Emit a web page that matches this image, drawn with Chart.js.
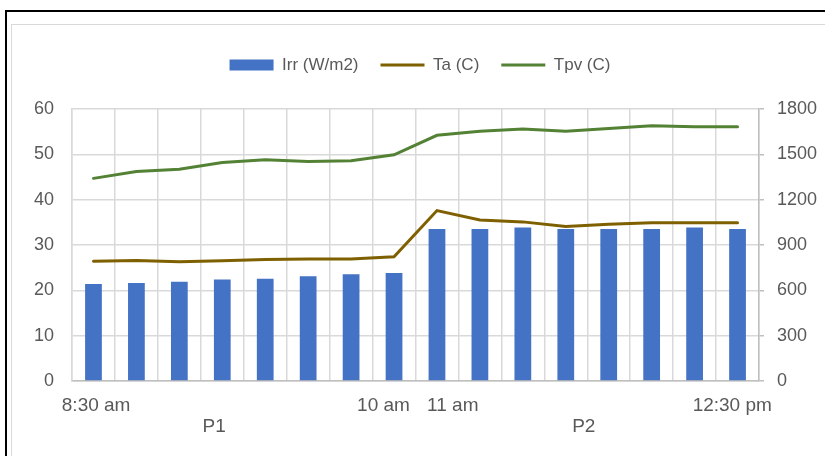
<!DOCTYPE html>
<html>
<head>
<meta charset="utf-8">
<script src="https://cdn.jsdelivr.net/npm/chart.js@4/dist/chart.umd.min.js"></script>
<style>
  html, body { margin: 0; padding: 0; background: #ffffff; overflow: hidden; }
  #wrap { position: relative; width: 825px; height: 456px; }
  #outer { position: absolute; left: 5px; top: 10px; width: 840px; height: 470px; border: 2px solid #000; box-sizing: border-box; }
  #inner { position: absolute; left: 11px; top: 24px; width: 840px; height: 470px; border: 1.5px solid #d9d9d9; box-sizing: border-box; }
  canvas { position: absolute; left: 0; top: 0; }
</style>
</head>
<body>
<div id="wrap">
  <div id="outer"></div>
  <div id="inner"></div>
  <canvas id="c" width="825" height="456"></canvas>
</div>
<script>
// ---- data ----
const categories = ['8:30 am', '', '', '', '', '', '', '10 am', '11 am', '', '', '', '', '', '', '12:30 pm'];
const groupLabels = ['P1', 'P2'];
const irr = [642, 648, 657, 671, 677, 693, 706, 715, 1006, 1006, 1015, 1006, 1006, 1006, 1015, 1006];
const ta  = [26.4, 26.6, 26.3, 26.5, 26.8, 26.9, 26.9, 27.4, 37.6, 35.5, 35.1, 34.1, 34.6, 34.9, 34.9, 34.9];
const tpv = [44.7, 46.2, 46.7, 48.2, 48.8, 48.4, 48.6, 49.9, 54.2, 55.1, 55.6, 55.1, 55.7, 56.3, 56.1, 56.1];
const leftTicks = [0, 10, 20, 30, 40, 50, 60];
const rightTicks = [0, 300, 600, 900, 1200, 1500, 1800];

const FONT = "'Liberation Sans', Arial, sans-serif";
const TXT = '#595959';
const GRID = '#d9d9d9';
const PAD_LEFT = 15;

const groupPlugin = {
  id: 'groupLabels',
  afterDraw(chart) {
    const xs = chart.scales.x;
    const ctx = chart.ctx;
    const at = [2.81, 11.42];
    ctx.save();
    ctx.font = '19px ' + FONT;
    ctx.fillStyle = TXT;
    ctx.textAlign = 'center';
    ctx.textBaseline = 'middle';
    groupLabels.forEach((g, i) => {
      ctx.fillText(g, xs.getPixelForValue(at[i]), 427);
    });
    ctx.restore();
  }
};

// small horizontal nudges of the sparse tick labels (spaces), as in the reference
const labelPad = { 0: [1, 0], 7: [0, 4], 8: [6, 0], 15: [0, 2] };

new Chart(document.getElementById('c'), {
  data: {
    labels: categories,
    datasets: [
      {
        type: 'bar', label: 'Irr (W/m2)', data: irr, yAxisID: 'y2', xAxisID: 'x',
        backgroundColor: '#4472C4', borderWidth: 0,
        barPercentage: 0.39, categoryPercentage: 1, order: 2,
        pointStyle: 'rect'
      },
      {
        type: 'line', label: 'Ta (C)', data: ta, yAxisID: 'y', xAxisID: 'x',
        borderColor: '#7F6000', backgroundColor: '#7F6000', borderWidth: 3,
        pointRadius: 0, pointHoverRadius: 0, tension: 0, order: 1,
        pointStyle: 'line', borderCapStyle: 'round'
      },
      {
        type: 'line', label: 'Tpv (C)', data: tpv, yAxisID: 'y', xAxisID: 'x',
        borderColor: '#548235', backgroundColor: '#548235', borderWidth: 3,
        pointRadius: 0, pointHoverRadius: 0, tension: 0, order: 0,
        pointStyle: 'line', borderCapStyle: 'round'
      }
    ]
  },
  options: {
    responsive: false,
    animation: false,
    devicePixelRatio: 1,
    layout: { padding: { top: 34.5, left: PAD_LEFT, right: 0, bottom: 0 } },
    plugins: {
      tooltip: { enabled: false },
      legend: {
        display: true,
        position: 'top',
        labels: {
          usePointStyle: true,
          pointStyleWidth: 44,
          boxHeight: 11,
          padding: 22,
          color: TXT,
          font: { family: FONT, size: 17 },
          sort: (a, b) => a.datasetIndex - b.datasetIndex
        }
      }
    },
    scales: {
      x: {
        type: 'category',
        position: 'bottom',
        offset: true,
        grid: { display: true, offset: true, color: GRID, lineWidth: 1.5, drawTicks: false },
        border: { display: true, color: '#bfbfbf', width: 1.5 },
        ticks: {
          autoSkip: false, maxRotation: 0, minRotation: 0, padding: 13,
          color: TXT, font: { family: FONT, size: 19 },
          callback(v, i) {
            const l = categories[i];
            const p = labelPad[i];
            if (!p || !l) return l;
            return ' '.repeat(p[0]) + l + ' '.repeat(p[1]);
          }
        },
        afterFit(s) { s.height = 75; }
      },
      topSpacer: {
        type: 'linear', position: 'top', display: true,
        grid: { display: false }, border: { display: false },
        ticks: { display: false },
        afterFit(s) { s.height = 25.5; }
      },
      y: {
        type: 'linear', position: 'left', min: 0, max: 60,
        grid: { color: GRID, lineWidth: 1.5, drawTicks: false },
        border: { display: true, color: GRID, width: 1.5 },
        afterBuildTicks(s) { s.ticks = leftTicks.map(v => ({ value: v })); },
        ticks: { padding: 18, color: TXT, font: { family: FONT, size: 18 }, callback: v => String(v) },
        afterFit(s) { s.width = 72 - PAD_LEFT; }
      },
      y2: {
        type: 'linear', position: 'right', min: 0, max: 1800,
        grid: { drawOnChartArea: false, drawTicks: true, tickLength: 5, color: '#bfbfbf', lineWidth: 1.5 },
        border: { display: true, color: '#bfbfbf', width: 1.5 },
        afterBuildTicks(s) { s.ticks = rightTicks.map(v => ({ value: v })); },
        ticks: { padding: 13, color: TXT, font: { family: FONT, size: 18 }, callback: v => String(v) },
        afterFit(s) { s.width = 66; }
      }
    }
  },
  plugins: [groupPlugin]
});
</script>
</body>
</html>
